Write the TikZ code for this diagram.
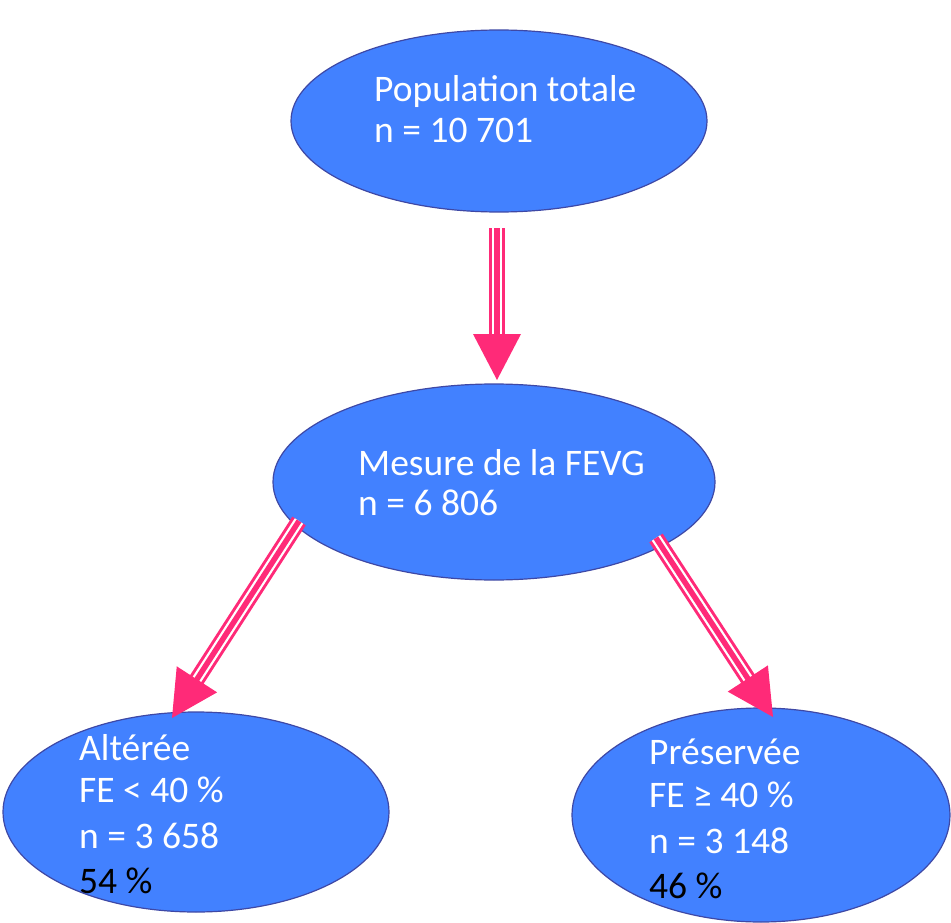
\documentclass[tikz,border=0pt]{standalone}
\usepackage{fontspec}
\setmainfont{Carlito}
\usetikzlibrary{shapes.geometric,calc}
\definecolor{ellfill}{RGB}{66,129,255}
\definecolor{elldraw}{RGB}{62,72,165}
\definecolor{arrpink}{RGB}{255,42,120}
\tikzset{
  ell/.style={ellipse, draw=elldraw, fill=ellfill, line width=1.2pt, inner sep=0pt},
  lbl/.style={anchor=base west, inner sep=0pt, text=white, font=\fontsize{37.5}{42}\selectfont},
  lblk/.style={lbl, text=black},
}
\newcommand{\triplearrow}[2]{%
  \draw[arrpink, line width=16pt, shorten >=40pt] (#1) -- (#2);
  \draw[white, line width=10pt, shorten >=40pt] (#1) -- (#2);
  \draw[arrpink, line width=5.5pt, shorten >=40pt] (#1) -- (#2);
  \fill[arrpink] (#2) -- ($($(#2)!46pt!(#1)$)!24pt!90:(#2)$) -- ($($(#2)!46pt!(#1)$)!24pt!-90:(#2)$) -- cycle;
}
\begin{document}
\begin{tikzpicture}[x=1pt,y=-1pt]
\useasboundingbox (0,0) rectangle (951,923);
\node[ell, minimum width=416pt, minimum height=182pt] (top) at (499,121) {};
\node[ell, minimum width=442pt, minimum height=196pt] (mid) at (494,482) {};
\node[ell, minimum width=386pt, minimum height=200pt] (left) at (196,812) {};
\node[ell, minimum width=378pt, minimum height=214pt] (right) at (761,815) {};

\node[lbl] (t1) at (374,102) {Population totale};
\node[lbl] (t2) at (374,143) {n = 10 701};
\node[lbl] (m1) at (358,475) {Mesure de la FEVG};
\node[lbl] (m2) at (358,515) {n = 6 806};
\node[lbl] (l1) at (79,760) {Altérée};
\node[lbl] (l2) at (79,802) {FE < 40 \%};
\node[lbl] (l3) at (79,848) {n = 3 658};
\node[lblk] (l4) at (79,893) {54 \%};
\node[lbl] (r1) at (649,764) {Préservée};
\node[lbl] (r2) at (649,807) {FE ≥ 40 \%};
\node[lbl] (r3) at (649,853) {n = 3 148};
\node[lblk] (r4) at (649,898) {46 \%};

\coordinate (a1s) at (497,228);
\coordinate (a1e) at (497,380);
\coordinate (a2s) at (299,521);
\coordinate (a2e) at (172,718);
\coordinate (a3s) at (656,538);
\coordinate (a3e) at (773,717);
\triplearrow{a1s}{a1e}
\triplearrow{a2s}{a2e}
\triplearrow{a3s}{a3e}
\end{tikzpicture}
\end{document}
